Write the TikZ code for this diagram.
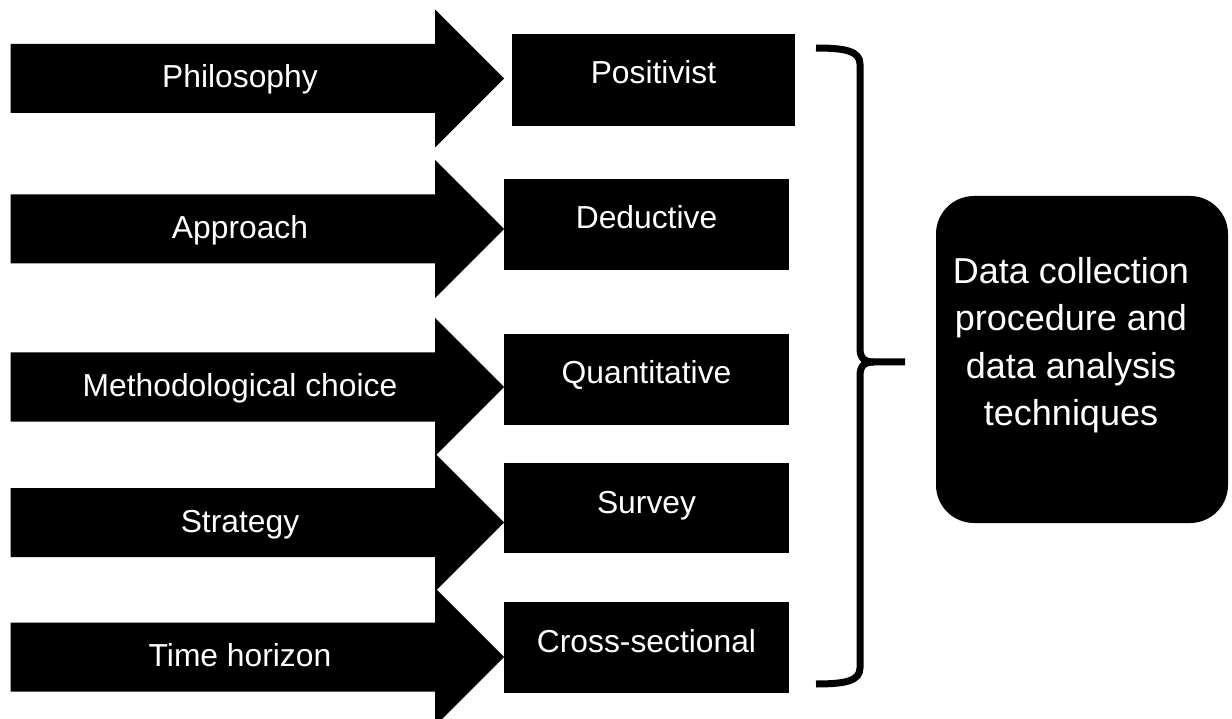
\documentclass[tikz,border=0pt]{standalone}
\usepackage{fontspec}
\setmainfont{Liberation Sans}
\begin{document}
\begin{tikzpicture}[x=1pt,y=-1pt,
  lbl/.style={text=white, font=\fontsize{31.8}{38}\selectfont, anchor=base, inner sep=0pt},
  boxlbl/.style={text=white, font=\fontsize{36}{47.5}\selectfont, align=center, inner sep=0pt},
  brace/.style={line width=7pt, line cap=butt, line join=round}]
\useasboundingbox (0,0) rectangle (1232,719);
\fill[white] (0,0) rectangle (1232,719);

% block arrows on the left, each with its label
\foreach \n/\cy/\txt in {phil/78.5/Philosophy, appr/229/Approach, meth/387/Methodological choice, strat/522.5/Strategy, time/657/Time horizon}{
  \fill[black] (10.5,\cy-34.5) -- (435,\cy-34.5) -- (435,\cy-69) -- (504,\cy)
        -- (435,\cy+69) -- (435,\cy+34.5) -- (10.5,\cy+34.5) -- cycle;
  \node[lbl] (\n) at (240,\cy+9.5) {\txt};
}

% boxes at the arrow tips
\foreach \n/\l/\r/\t/\b/\txt in {pos/512/795/34/126/Positivist, ded/504/789/179/270/Deductive, quant/504/789/334/425/Quantitative, surv/504/789/463/553/Survey, cross/504/789/602/693/Cross-sectional}{
  \fill[black] (\l,\t) rectangle (\r,\b);
  \node[lbl] (\n) at ({(\l+\r)/2},\t+50) {\txt};
}

% curly brace gathering the five boxes
\coordinate (btop) at (816,48);
\coordinate (bbot) at (816,684);
\coordinate (btip) at (905,362);
\draw[brace] (btop) .. controls (845,48) and (860,51) .. (860,64) -- (860,348)
  .. controls (860,358) and (864,362) .. (874,362) -- (btip);
\draw[brace] (874,362) .. controls (864,362) and (860,366) .. (860,376) -- (860,668)
  .. controls (860,681) and (845,684) .. (bbot);

% result box
\fill[black, rounded corners=38pt] (936,196) rectangle (1228,523);
\node[boxlbl] (dc) at (1071,345) {Data collection\\procedure and\\data analysis\\techniques};
\end{tikzpicture}
\end{document}
